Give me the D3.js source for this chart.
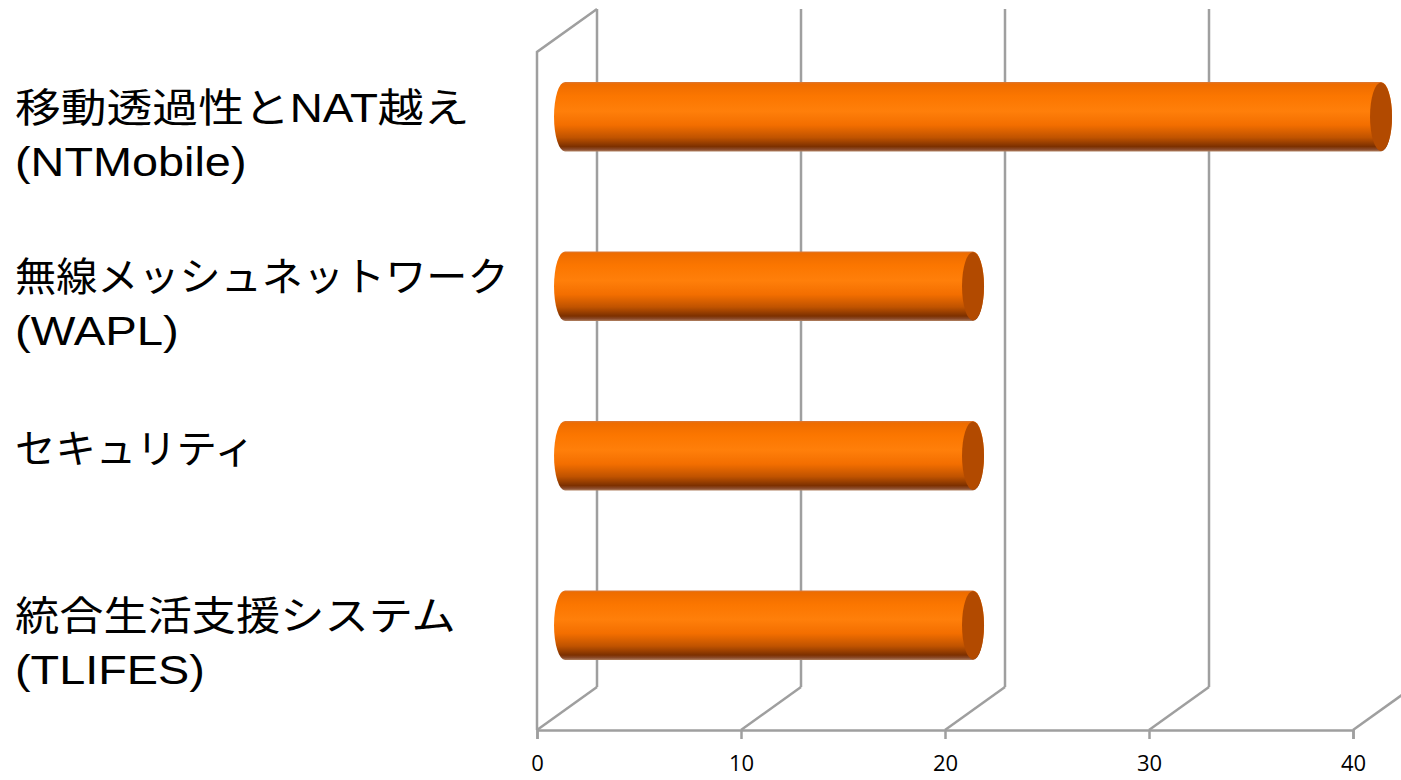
<!DOCTYPE html>
<html><head><meta charset="utf-8">
<script src="https://cdn.jsdelivr.net/npm/d3@7"></script>
<style>html,body{margin:0;padding:0;background:#fff;}svg{display:block;}</style>
</head><body>
<svg id="c" width="1401" height="780"></svg>
<script>
const categories = [
  ["移動透過性とNAT越え", "(NTMobile)"],
  ["無線メッシュネットワーク", "(WAPL)"],
  ["セキュリティ"],
  ["統合生活支援システム", "(TLIFES)"]
];
const values = [40, 20, 20, 20];
const ticks = [0, 10, 20, 30, 40];

const svg = d3.select("#c");
const front = {left: 537, right: 1353, top: 52, bottom: 730};
const depth = {dx: 60, dy: -43};
const barDepth = 0.467;

const x = d3.scaleLinear().domain([0, 40]).range([front.left, front.right]);
const y = d3.scaleBand().domain(d3.range(categories.length))
  .range([front.top, front.bottom]).paddingInner(0.59).paddingOuter(0.295);

const grid = "#9f9f9f";
const g = svg.append("g");
g.append("path").attr("d", `M${front.left},${front.bottom}V${front.top}L${front.left+depth.dx},${front.top+depth.dy}`)
  .attr("fill","none").attr("stroke",grid).attr("stroke-width",2.5);
ticks.forEach(t => {
  const fx = x(t);
  g.append("line").attr("x1",fx+depth.dx).attr("x2",fx+depth.dx)
    .attr("y1",front.top+depth.dy).attr("y2",front.bottom+depth.dy)
    .attr("stroke",grid).attr("stroke-width",2.5);
  g.append("line").attr("x1",fx).attr("y1",front.bottom)
    .attr("x2",fx+depth.dx).attr("y2",front.bottom+depth.dy)
    .attr("stroke",grid).attr("stroke-width",2.5);
});
const axis = d3.axisBottom(x).tickValues(ticks).tickSize(9).tickPadding(16);
const ax = svg.append("g").attr("transform",`translate(0,${front.bottom})`).call(axis);
ax.attr("font-size",null).attr("font-family",null);
ax.select(".domain").attr("stroke",grid).attr("stroke-width",2.5);
ax.selectAll(".tick line").attr("stroke",grid).attr("stroke-width",2.5);
ax.selectAll(".tick text").style("font-family","'Open Sans', 'DejaVu Sans', sans-serif")
  .style("font-size","22px").attr("fill","#000");

const defs = svg.append("defs");
const grad = defs.append("linearGradient").attr("id","cyl").attr("x1",0).attr("y1",0).attr("x2",0).attr("y2",1);
[[0,"#d8783a"],[0.03,"#ee6c00"],[0.2,"#fb7600"],[0.42,"#ff7f0a"],[0.62,"#f36e00"],[0.8,"#c05300"],[0.93,"#7c3000"],[0.97,"#8a4a2a"],[1,"#b08060"]]
  .forEach(([o,c]) => grad.append("stop").attr("offset",o).attr("stop-color",c));

const ox = depth.dx*barDepth, oy = depth.dy*barDepth;
const bars = svg.append("g");
values.forEach((v,i) => {
  const top = y(i)+oy, h = y.bandwidth(), bot = top+h, ry = h/2, rx = 11;
  const x0 = x(0)+ox, x1 = x(v)+ox;
  bars.append("path")
    .attr("d", `M${x0},${top}A${rx},${ry} 0 0 0 ${x0},${bot}L${x1},${bot}A${rx},${ry} 0 0 0 ${x1},${top}Z`)
    .attr("fill","url(#cyl)");
  bars.append("ellipse").attr("cx",x1).attr("cy",top+ry).attr("rx",rx).attr("ry",ry-0.5)
    .attr("fill","#b24a00");
});

// labels: kanji and Latin are drawn slightly wider than kana (like the original font)
const lab = svg.append("g").attr("font-family","'Liberation Sans', 'Noto Sans CJK JP', sans-serif")
  .attr("font-size",40).attr("fill","#000");
const probe = lab.append("text").attr("x",-1000).attr("y",-1000);
function charW(ch){ probe.text(ch); return probe.node().getComputedTextLength(); }
function widen(ch){
  if (/[\u3040-\u30ff]/.test(ch)) return 1.0;
  return 1.17;
}
const lineH = 54;
categories.forEach((lines,i) => {
  const c = y(i)+oy+y.bandwidth()/2;
  const n = lines.length;
  const center = n === 1 ? c - 7 : c + 18;
  const t = lab.append("text").attr("x",15);
  lines.forEach((s,k) => {
    const target = Array.from(s).reduce((a,ch)=>a+charW(ch)*widen(ch),0);
    t.append("tspan").attr("x",15)
     .attr("y", center + (k-(n-1)/2)*lineH + 14)
     .attr("textLength", target).attr("lengthAdjust","spacingAndGlyphs")
     .text(s);
  });
});
probe.remove();
</script>
</body></html>
